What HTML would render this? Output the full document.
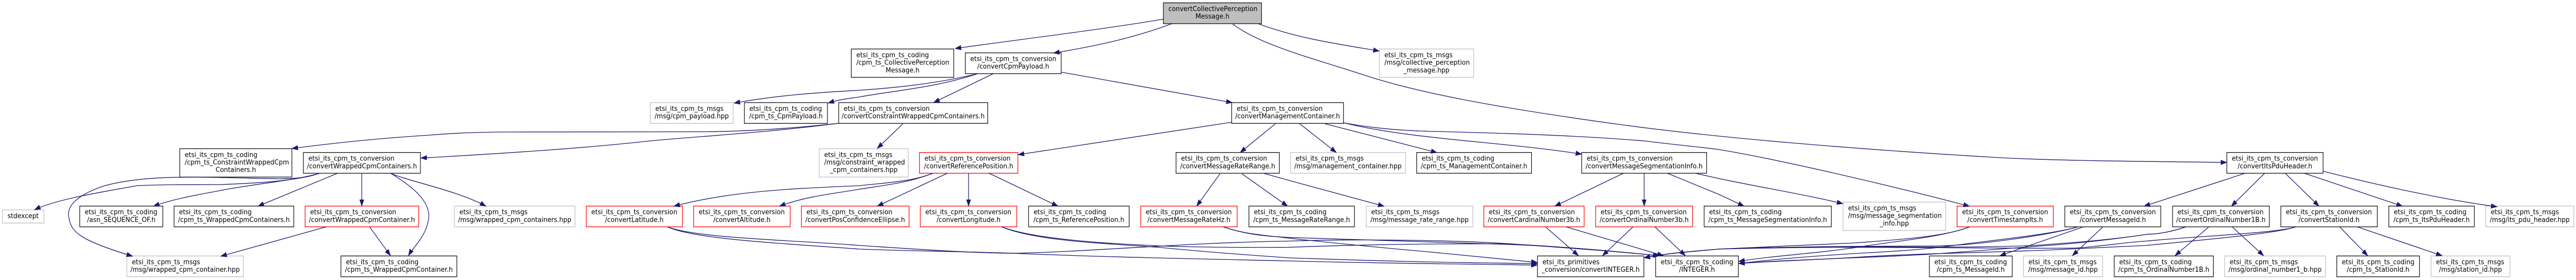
<!DOCTYPE html>
<html><head><meta charset="utf-8"><title>Include dependency graph</title>
<style>
html,body{margin:0;padding:0;background:#fff;width:100%;height:100%;overflow:hidden}
svg{display:block;position:absolute;left:0;top:0;width:100vw;height:100vh}
text{font-family:"DejaVu Sans",sans-serif;font-size:13.33px;fill:#000}
.m{text-anchor:middle}
rect{fill:#fff;stroke-width:1.33}
.k{stroke:#111}.g{stroke:#bfbfbf}.r{stroke:#ff0000}.root{fill:#bfbfbf;stroke:#111}
#e path{fill:none;stroke:#191970;stroke-width:1.33;marker-end:url(#a)}
</style></head><body>
<svg xmlns="http://www.w3.org/2000/svg" viewBox="0 0 5395 543" preserveAspectRatio="none">
<defs><marker id="a" markerUnits="userSpaceOnUse" markerWidth="14" markerHeight="10" refX="13" refY="4.65" orient="auto"><path d="M0,0L13,4.65L0,9.3z" fill="#191970" stroke="#191970" stroke-width="0.5"/></marker></defs>
<g id="n">
<rect class="root" x="2436.6" y="5.5" width="205.4" height="40.4"/><text x="2447" y="21.5">convertCollectivePerception</text><text class="m" x="2539.3" y="36.2">Message.h</text>

<rect class="k" x="1782.9" y="95" width="214.6" height="55"/><text x="1793.4" y="111">etsi_its_cpm_ts_coding</text><text x="1793.4" y="125.7">/cpm_ts_CollectivePerception</text><text class="m" x="1890.2" y="140.3">Message.h</text>
<rect class="k" x="2021.6" y="102.5" width="200.9" height="40.3"/><text x="2032.1" y="118.5">etsi_its_cpm_ts_conversion</text><text class="m" x="2122" y="133.2">/convertCpmPayload.h</text>
<rect class="g" x="2888.9" y="95" width="197.4" height="55"/><text x="2899.4" y="111">etsi_its_cpm_ts_msgs</text><text x="2899.4" y="125.7">/msg/collective_perception</text><text class="m" x="2987.6" y="140.3">_message.hpp</text>

<rect class="g" x="1362" y="199" width="173.5" height="40.3"/><text x="1372.5" y="215">etsi_its_cpm_ts_msgs</text><text class="m" x="1448.7" y="229.7">/msg/cpm_payload.hpp</text>
<rect class="k" x="1559" y="199" width="174" height="40.3"/><text x="1569.5" y="215">etsi_its_cpm_ts_coding</text><text class="m" x="1646" y="229.7">/cpm_ts_CpmPayload.h</text>
<rect class="k" x="1756.5" y="199" width="312.1" height="40.3"/><text x="1767" y="215">etsi_its_cpm_ts_conversion</text><text class="m" x="1912.5" y="229.7">/convertConstraintWrappedCpmContainers.h</text>
<rect class="k" x="2579.5" y="199" width="234.2" height="40.3"/><text x="2590" y="215">etsi_its_cpm_ts_conversion</text><text class="m" x="2696.6" y="229.7">/convertManagementContainer.h</text>

<rect class="k" x="376.5" y="288.4" width="234.8" height="55"/><text x="387" y="304.4">etsi_its_cpm_ts_coding</text><text x="387" y="319.1">/cpm_ts_ConstraintWrappedCpm</text><text class="m" x="493.9" y="333.7">Containers.h</text>
<rect class="k" x="635.4" y="295.7" width="245.1" height="40.3"/><text x="645.9" y="311.7">etsi_its_cpm_ts_conversion</text><text class="m" x="758" y="326.4">/convertWrappedCpmContainers.h</text>
<rect class="g" x="1715.7" y="288.4" width="186.5" height="55"/><text x="1726.2" y="304.4">etsi_its_cpm_ts_msgs</text><text x="1726.2" y="319.1">/msg/constraint_wrapped</text><text class="m" x="1809" y="333.7">_cpm_containers.hpp</text>
<rect class="r" x="1925.7" y="295.7" width="206.1" height="40.3"/><text x="1936.2" y="311.7">etsi_its_cpm_ts_conversion</text><text class="m" x="2028.8" y="326.4">/convertReferencePosition.h</text>
<rect class="k" x="2463" y="295.7" width="216.4" height="40.3"/><text x="2473.5" y="311.7">etsi_its_cpm_ts_conversion</text><text class="m" x="2571.2" y="326.4">/convertMessageRateRange.h</text>
<rect class="g" x="2702.9" y="295.7" width="240.5" height="40.3"/><text x="2713.4" y="311.7">etsi_its_cpm_ts_msgs</text><text class="m" x="2823.1" y="326.4">/msg/management_container.hpp</text>
<rect class="k" x="2967" y="295.7" width="240.4" height="40.3"/><text x="2977.5" y="311.7">etsi_its_cpm_ts_coding</text><text class="m" x="3087.2" y="326.4">/cpm_ts_ManagementContainer.h</text>
<rect class="k" x="3312.5" y="295.7" width="261.7" height="40.3"/><text x="3323" y="311.7">etsi_its_cpm_ts_conversion</text><text class="m" x="3443.4" y="326.4">/convertMessageSegmentationInfo.h</text>
<rect class="k" x="4663.8" y="295.7" width="201.5" height="40.3"/><text x="4674.3" y="311.7">etsi_its_cpm_ts_conversion</text><text class="m" x="4764.5" y="326.4">/convertItsPduHeader.h</text>

<rect class="g" x="5" y="407" width="87" height="25.5"/><text class="m" x="48.5" y="423">stdexcept</text>
<rect class="k" x="167" y="399.6" width="174" height="40.3"/><text x="177.5" y="415.6">etsi_its_cpm_ts_coding</text><text class="m" x="254" y="430.3">/asn_SEQUENCE_OF.h</text>
<rect class="k" x="364.5" y="399.6" width="250.8" height="40.3"/><text x="375" y="415.6">etsi_its_cpm_ts_coding</text><text class="m" x="489.9" y="430.3">/cpm_ts_WrappedCpmContainers.h</text>
<rect class="r" x="639" y="399.6" width="238" height="40.3"/><text x="649.5" y="415.6">etsi_its_cpm_ts_conversion</text><text class="m" x="758" y="430.3">/convertWrappedCpmContainer.h</text>
<rect class="g" x="951.7" y="399.6" width="252.5" height="40.3"/><text x="962.2" y="415.6">etsi_its_cpm_ts_msgs</text><text class="m" x="1078" y="430.3">/msg/wrapped_cpm_containers.hpp</text>
<rect class="r" x="1227.8" y="399.6" width="201.5" height="40.3"/><text x="1238.3" y="415.6">etsi_its_cpm_ts_conversion</text><text class="m" x="1328.5" y="430.3">/convertLatitude.h</text>
<rect class="r" x="1452.8" y="399.6" width="202.1" height="40.3"/><text x="1463.3" y="415.6">etsi_its_cpm_ts_conversion</text><text class="m" x="1553.8" y="430.3">/convertAltitude.h</text>
<rect class="r" x="1678.4" y="399.6" width="225.5" height="40.3"/><text x="1688.9" y="415.6">etsi_its_cpm_ts_conversion</text><text class="m" x="1791.1" y="430.3">/convertPosConfidenceEllipse.h</text>
<rect class="r" x="1927.4" y="399.6" width="202.1" height="40.3"/><text x="1937.9" y="415.6">etsi_its_cpm_ts_conversion</text><text class="m" x="2028.5" y="430.3">/convertLongitude.h</text>
<rect class="k" x="2154.2" y="399.6" width="210.6" height="40.3"/><text x="2164.7" y="415.6">etsi_its_cpm_ts_coding</text><text class="m" x="2259.5" y="430.3">/cpm_ts_ReferencePosition.h</text>
<rect class="r" x="2389" y="399.6" width="202" height="40.3"/><text x="2399.5" y="415.6">etsi_its_cpm_ts_conversion</text><text class="m" x="2490" y="430.3">/convertMessageRateHz.h</text>
<rect class="k" x="2615.7" y="399.6" width="220.9" height="40.3"/><text x="2626.2" y="415.6">etsi_its_cpm_ts_coding</text><text class="m" x="2726.1" y="430.3">/cpm_ts_MessageRateRange.h</text>
<rect class="g" x="2861.3" y="399.6" width="223.3" height="40.3"/><text x="2871.8" y="415.6">etsi_its_cpm_ts_msgs</text><text class="m" x="2973" y="430.3">/msg/message_rate_range.hpp</text>
<rect class="r" x="3107.6" y="399.6" width="210.1" height="40.3"/><text x="3118.1" y="415.6">etsi_its_cpm_ts_conversion</text><text class="m" x="3212.6" y="430.3">/convertCardinalNumber3b.h</text>
<rect class="r" x="3341.8" y="399.6" width="203.2" height="40.3"/><text x="3352.3" y="415.6">etsi_its_cpm_ts_conversion</text><text class="m" x="3443.4" y="430.3">/convertOrdinalNumber3b.h</text>
<rect class="k" x="3569" y="399.6" width="266.4" height="40.3"/><text x="3579.5" y="415.6">etsi_its_cpm_ts_coding</text><text class="m" x="3702.2" y="430.3">/cpm_ts_MessageSegmentationInfo.h</text>
<rect class="g" x="3860" y="392" width="214.8" height="55"/><text x="3870.5" y="408">etsi_its_cpm_ts_msgs</text><text x="3870.5" y="422.7">/msg/message_segmentation</text><text class="m" x="3967.4" y="437.3">_info.hpp</text>
<rect class="r" x="4098.8" y="399.6" width="201.5" height="40.3"/><text x="4109.3" y="415.6">etsi_its_cpm_ts_conversion</text><text class="m" x="4199.5" y="430.3">/convertTimestampIts.h</text>
<rect class="k" x="4324.4" y="399.6" width="201" height="40.3"/><text x="4334.9" y="415.6">etsi_its_cpm_ts_conversion</text><text class="m" x="4424.9" y="430.3">/convertMessageId.h</text>
<rect class="k" x="4550" y="399.6" width="202.7" height="40.3"/><text x="4560.5" y="415.6">etsi_its_cpm_ts_conversion</text><text class="m" x="4651.3" y="430.3">/convertOrdinalNumber1B.h</text>
<rect class="k" x="4776.8" y="399.6" width="202.1" height="40.3"/><text x="4787.3" y="415.6">etsi_its_cpm_ts_conversion</text><text class="m" x="4877.8" y="430.3">/convertStationId.h</text>
<rect class="k" x="5003" y="399.6" width="179" height="40.3"/><text x="5013.5" y="415.6">etsi_its_cpm_ts_coding</text><text class="m" x="5092.5" y="430.3">/cpm_ts_ItsPduHeader.h</text>
<rect class="g" x="5206" y="399.6" width="184.5" height="40.3"/><text x="5216.5" y="415.6">etsi_its_cpm_ts_msgs</text><text class="m" x="5298.2" y="430.3">/msg/its_pdu_header.hpp</text>

<rect class="g" x="265.8" y="496.4" width="243.9" height="40.3"/><text x="276.3" y="512.4">etsi_its_cpm_ts_msgs</text><text class="m" x="387.7" y="527">/msg/wrapped_cpm_container.hpp</text>
<rect class="k" x="714" y="496.4" width="242.8" height="40.3"/><text x="724.5" y="512.4">etsi_its_cpm_ts_coding</text><text class="m" x="835.4" y="527">/cpm_ts_WrappedCpmContainer.h</text>
<rect class="k" x="3220" y="496.4" width="222.8" height="40.3"/><text x="3230.5" y="512.4">etsi_its_primitives</text><text class="m" x="3331.4" y="527">_conversion/convertINTEGER.h</text>
<rect class="k" x="3467.5" y="496.4" width="173.3" height="40.3"/><text x="3478" y="512.4">etsi_its_cpm_ts_coding</text><text class="m" x="3554.1" y="527">/INTEGER.h</text>
<rect class="k" x="4040.8" y="496.4" width="173.4" height="40.3"/><text x="4051.3" y="512.4">etsi_its_cpm_ts_coding</text><text class="m" x="4127.5" y="527">/cpm_ts_MessageId.h</text>
<rect class="g" x="4237.7" y="496.4" width="165.9" height="40.3"/><text x="4248.2" y="512.4">etsi_its_cpm_ts_msgs</text><text class="m" x="4320.6" y="527">/msg/message_id.hpp</text>
<rect class="k" x="4427.8" y="496.4" width="207.8" height="40.3"/><text x="4438.3" y="512.4">etsi_its_cpm_ts_coding</text><text class="m" x="4531.7" y="527">/cpm_ts_OrdinalNumber1B.h</text>
<rect class="g" x="4659.2" y="496.4" width="211.2" height="40.3"/><text x="4669.7" y="512.4">etsi_its_cpm_ts_msgs</text><text class="m" x="4764.8" y="527">/msg/ordinal_number1_b.hpp</text>
<rect class="k" x="4894" y="496.4" width="173.3" height="40.3"/><text x="4904.5" y="512.4">etsi_its_cpm_ts_coding</text><text class="m" x="4980.6" y="527">/cpm_ts_StationId.h</text>
<rect class="g" x="5091.4" y="496.4" width="165.3" height="40.3"/><text x="5101.9" y="512.4">etsi_its_cpm_ts_msgs</text><text class="m" x="5174" y="527">/msg/station_id.hpp</text>
</g>
<g id="e">
<path d="M2437,37C2330,54 2190,70 2000,94"/>
<path d="M2454,46C2370,75 2290,90 2206,103"/>
<path d="M2581,46C2640,88 2750,113 2855,145C2970,180 3130,208 3389,241C3600,268 3900,290 4174,305C4300,312 4500,313 4664,315"/>
<path d="M2635,46C2720,75 2800,85 2889,99"/>
<path d="M2080,143L1955,199"/>
<path d="M2223,140L2581,199"/>
<path d="M2047,143C1950,165 1850,172 1800,175C1700,180 1620,186 1537,200"/>
<path d="M2047,143C1960,170 1870,176 1800,188C1780,191 1760,192 1734,200"/>
<path d="M1757,239C1650,250 1550,255 1474,255.5L1072,256C1000,256 950,258 900,262C800,268 720,275 611,288"/>
<path d="M1757,239C1600,258 1450,265 1359,273.5C1200,290 1000,300 900,305.7L881,306.4"/>
<path d="M1891,240L1837,288"/>
<path d="M669,336C620,352 520,356 459,358C380,358 340,358 287,360C230,370 120,385 72,407"/>
<path d="M669,336C620,350 520,358 459,370C400,380 360,387 321,400"/>
<path d="M707,336L540,400"/>
<path d="M757.7,336L757.7,400"/>
<path d="M818,336C880,370 905,400 896.6,430C890,460 865,480 855.3,496"/>
<path d="M818,336C850,350 960,370 1018,400"/>
<path d="M669,336C630,350 580,347 500,345C400,343 300,340 220,360C160,378 140,400 144,420C148,450 165,465 278,497"/>
<path d="M683,440L462,497"/>
<path d="M774,440L818,496"/>
<path d="M2580,237L2132,300"/>
<path d="M2671,240L2597,296"/>
<path d="M2722,240L2799,296"/>
<path d="M2775,240L3010,296"/>
<path d="M2814,238C2950,270 3150,275 3313,299"/>
<path d="M2814,238C2880,250 2950,254 3010,255C3130,258 3300,262 3446,273.5C3500,280 3560,285 3600,290C3730,310 3960,360 4125,400"/>
<path d="M1954,336C1910,352 1860,354 1800,360C1690,365 1540,368 1411,400"/>
<path d="M1954,336C1900,355 1860,358 1800,367C1750,375 1690,380 1632,400"/>
<path d="M1984,336L1837,400"/>
<path d="M2028.5,336L2028.5,400"/>
<path d="M2071.5,336L2216,400"/>
<path d="M2555,337L2506,400"/>
<path d="M2601,337L2697,400"/>
<path d="M2646,336L2700,350L2899,400"/>
<path d="M3400,336L3256,400"/>
<path d="M3443.4,336L3443.4,400"/>
<path d="M3492,336L3600,377L3653,400"/>
<path d="M3551,336C3650,358 3760,373 3860,395"/>
<path d="M4702,336L4490,400"/>
<path d="M4743,336L4673,400"/>
<path d="M4786,336L4857,400"/>
<path d="M4826,336L5032,400"/>
<path d="M4865,332C4950,352 5100,385 5230,401"/>
<path d="M4363,440L4188,496"/>
<path d="M4404,440L4340,496"/>
<path d="M1398,440C1450,462 1600,470 1800,483C1900,487 2050,488 2144,492C2300,498 2500,502 2700,506C2850,510 3050,512 3220,514"/>
<path d="M1398,440C1460,462 1650,465 1800,476C1900,482 2050,492 2133,491C2280,488 2500,470 2700,467.5C2850,463 3050,466 3159,472.6C3270,480 3380,487 3476,496"/>
<path d="M2098,440C2170,468 2320,472 2431,480C2520,488 2620,495 2700,500C2850,505 3050,510 3220,511"/>
<path d="M2098,440C2170,465 2320,472 2431,477C2520,480 2620,480 2700,479.6C2800,476 2950,472 3159,473C3270,478 3380,487 3475,496"/>
<path d="M2562,440C2610,455 2650,458 2700,460.5C2850,466 3000,470 3159,474C3270,478 3380,487 3475,496"/>
<path d="M2562,440C2610,455 2650,456 2700,462C2800,472 2900,481 2987,488C3070,496 3150,502 3220,509"/>
<path d="M3237,440L3306,496"/>
<path d="M3280,440L3484,496"/>
<path d="M3420,440L3356,496"/>
<path d="M3466,440L3530,496"/>
<path d="M4125,440C4060,462 3960,468 3887,480C3800,492 3720,495 3641,507"/>
<path d="M4125,440C4070,460 3970,465 3887,471C3780,476 3680,480 3600,483C3540,488 3500,490 3443,500"/>
<path d="M4352,440C4290,456 4150,468 4059,480C3980,488 3900,490 3830,495C3750,500 3700,505 3641,511"/>
<path d="M4352,440C4290,456 4150,475 4059,477L3830,478C3750,480 3680,480 3600,483C3540,488 3500,490 3443,500"/>
<path d="M4578,440C4530,455 4500,454 4500,454C4420,465 4350,472 4289,476C4200,482 4130,487 4059,492C3980,497 3900,499 3830,502C3750,505 3700,507 3641,511"/>
<path d="M4578,440C4530,455 4500,454 4500,454C4420,465 4350,470 4289,474C4200,482 3900,478 3830,478C3750,480 3680,480 3600,483C3540,488 3500,490 3443,500"/>
<path d="M4808,440C4770,452 4650,462 4495,476C4400,480 4350,482 4289,485C4150,490 4000,492 3887,499C3800,504 3700,507 3641,511"/>
<path d="M4808,440C4770,452 4600,458 4495,467.5C4450,470 4400,478 4346,481C4280,482 4220,481 4174,481C4000,480 3800,478 3600,483C3540,488 3500,490 3443,500"/>
<path d="M4626,440L4555,496"/>
<path d="M4675,440L4741,496"/>
<path d="M4900,440L4959,496"/>
<path d="M4937,440L5115,496"/>
</g>
</svg>
</body></html>
